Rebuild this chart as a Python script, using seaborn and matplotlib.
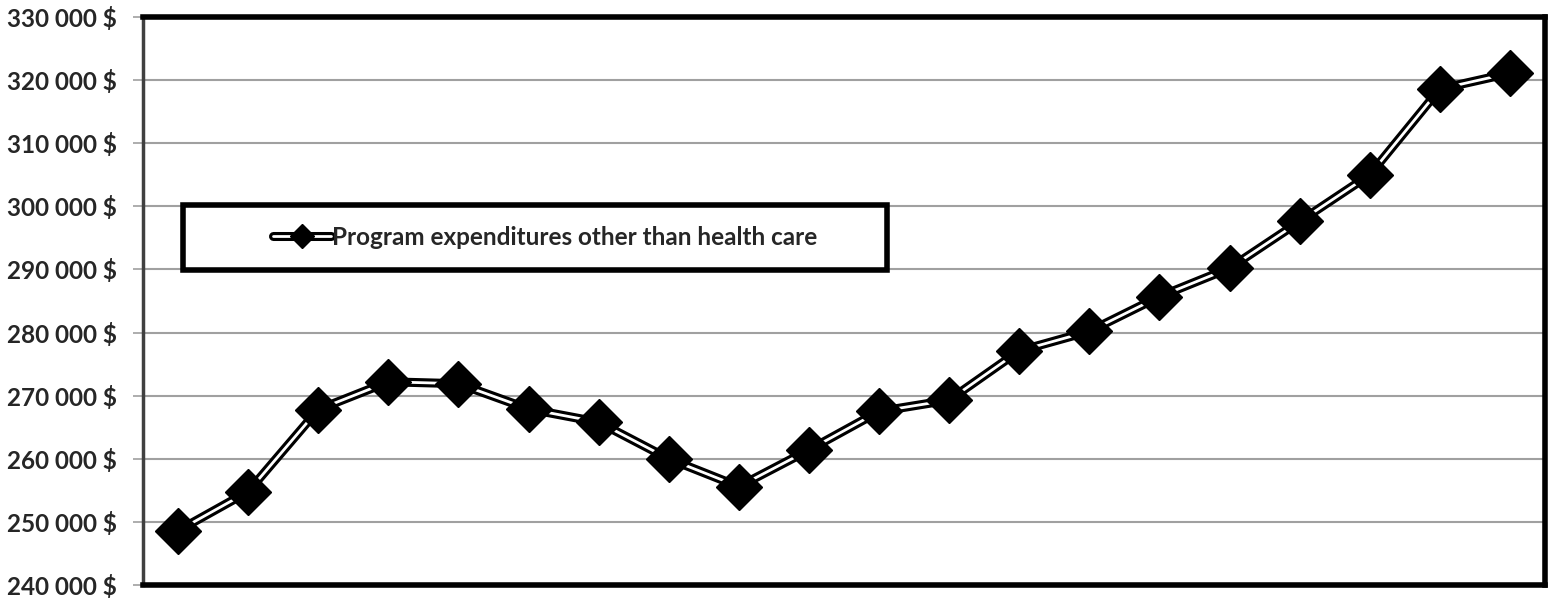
import matplotlib
matplotlib.use("Agg")
import matplotlib.pyplot as plt
import seaborn as sns
from matplotlib.ticker import FuncFormatter
from matplotlib.lines import Line2D
from matplotlib.patches import Rectangle

# data
periods = list(range(1, 21))
spending = [248600, 254800, 267800, 272200, 271900, 267900, 265800, 260000, 255600, 261400,
            267500, 269300, 277100, 280200, 285700, 290200, 297600, 305000, 318600, 321100]
series_label = "Program expenditures other than health care"
y_ticks = list(range(240000, 330001, 10000))

sns.set_theme(style="white")
plt.rcParams['font.family'] = ['Lato', 'DejaVu Sans']

fig = plt.figure(figsize=(15.5, 5.98), dpi=100)
ax = fig.add_axes([143 / 1550, 13 / 598, 1402 / 1550, 568 / 598])

x = [p - 0.5 for p in periods]
# double line: wide black stroke, thin white core, then diamond markers
sns.lineplot(x=x, y=spending, ax=ax, color="black", linewidth=6.5, zorder=3)
sns.lineplot(x=x, y=spending, ax=ax, color="white", linewidth=2, zorder=4)
ax.plot(x, spending, linestyle="none", marker="D", markersize=23, color="black", zorder=5)

ax.set_xlim(0, len(periods))
ax.set_ylim(240000, 330000)
ax.set_yticks(y_ticks)
ax.yaxis.set_major_formatter(FuncFormatter(lambda v, _: f"{int(v):,} $".replace(",", " ")))
ax.set_xticks([])
ax.grid(axis="y", color="#a0a0a0", linewidth=1.5)
ax.set_axisbelow(True)
ax.tick_params(axis="y", which="major", left=True, length=7, width=1.2, color="#a0a0a0",
               labelsize=17.5, pad=12)
for lab in ax.get_yticklabels():
    lab.set_fontweight("bold")

for side in ["top", "right", "bottom"]:
    ax.spines[side].set_color("black")
    ax.spines[side].set_linewidth(4)
ax.spines["left"].set_color("#404040")
ax.spines["left"].set_linewidth(2.5)

# legend box drawn separately so the entry can sit centred inside it
box = Rectangle((40 / 1402, 315 / 568), 704 / 1402, 65 / 568, transform=ax.transAxes,
                facecolor="white", edgecolor="black", linewidth=4, zorder=6)
ax.add_patch(box)
h_black = Line2D([], [], color="black", linewidth=6.5)
h_white = Line2D([], [], color="white", linewidth=2)
h_mark = Line2D([], [], linestyle="none", marker="D", markersize=12, color="black")
leg = ax.legend([(h_black, h_white, h_mark)], [series_label],
                loc="center", bbox_to_anchor=(402 / 1402, 347.5 / 568),
                frameon=False, handlelength=2.4, handletextpad=0.05,
                prop={"weight": "bold", "size": 17.5})
leg.set_zorder(7)

fig.savefig("out.png", dpi=100)
